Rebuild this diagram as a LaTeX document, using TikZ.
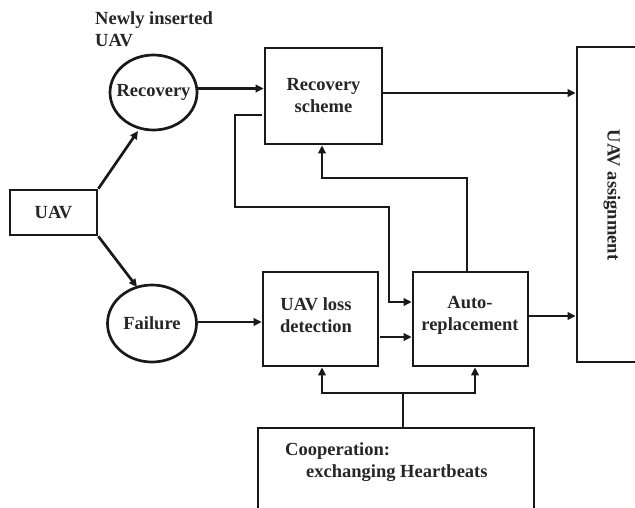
\documentclass[tikz,border=0pt]{standalone}
\usepackage{fontspec}
\setmainfont{Liberation Serif}
\usetikzlibrary{arrows.meta,shapes.geometric}
\begin{document}
\begin{tikzpicture}[x=1pt,y=-1pt,
  every node/.style={font=\fontsize{18.5}{22}\selectfont\bfseries, text=black!85},
  blk/.style={draw=black!90, line width=2.7pt, inner sep=0pt, align=center},
  oval/.style={draw=black!90, line width=2.7pt, ellipse, inner sep=0pt},
  conn/.style={draw=black!90, line width=2.7pt},
  arr/.style={conn, -{Triangle[length=8pt,width=7.5pt]}}]
\useasboundingbox (0,0) rectangle (635,507);
\clip (0,0) rectangle (635,507);
\fill[white] (0,0) rectangle (635,507);

% nodes
\node[blk, minimum width=87pt, minimum height=45pt] (uav) at (53.5,212.5) {UAV};
\node[oval, minimum width=87pt, minimum height=75pt, label={center:Recovery}] (rec) at (153.5,92.5) {};
\node[oval, minimum width=89pt, minimum height=77pt, label={center:Failure}] (fail) at (152,323.5) {};
\node[anchor=north west, align=left, inner sep=0pt] (newly) at (95,11) {Newly inserted\\UAV};

\node[blk, minimum width=117pt, minimum height=96pt] (scheme) at (323.5,96) {Recovery\\scheme};
\node[blk, minimum width=115pt, minimum height=94pt] (loss) at (320.5,319) {};
\node (losstxt) at (316,315) [align=center] {UAV loss\\detection};
\node[blk, minimum width=115pt, minimum height=94pt] (auto) at (470.5,319) {};
\node (autotxt) at (470,315) [align=center] {Auto-\\replacement};
\node[blk, minimum width=90pt, minimum height=315pt] (assign) at (622,204.5) {};
\node[rotate=-90] (assigntxt) at (612,195) {UAV assignment};
\node[blk, minimum width=276pt, minimum height=100pt] (coop) at (396,478) {};
\node[anchor=north west, align=left, inner sep=0pt] (cooptxt) at (285,442) {Cooperation:\\\hspace{21pt}exchanging Heartbeats};

% connectors
\draw[arr] (uav.north east) -- (138,131);
\draw[arr] (uav.south east) -- (137,287);
\draw[arr] (rec.east) ++(0,-4) coordinate (r1) -- (r1 -| scheme.west);
\draw[arr] (fail.east) ++(0,-1.5) coordinate (f1) -- (f1 -| loss.west);
\coordinate (s1) at (scheme.north east |- 0,93);
\draw[arr] (s1) -- (s1 -| assign.west);
\coordinate (a1) at (auto.east |- 0,316);
\draw[arr] (a1) -- (a1 -| assign.west);
\coordinate (l1) at (380,337);
\draw[arr] (l1) -- (l1 -| auto.west);

% feedback loops
\coordinate (fb0) at (262,115);
\draw[arr] (fb0) -- (235,115) -- (235,207) -- (389,207) -- (389,302) -- (auto.west |- 0,302);
\draw[arr] (auto.north -| 467,0) -- (467,178) -- (322,178) -- (scheme.south -| 322,0);

% heartbeat distribution
\draw[conn] (coop.north -| 403,0) -- (403,393);
\draw[arr] (322,393) -- (loss.south -| 322,0);
\draw[arr] (320.7,393) -- (475,393) -- (auto.south -| 475,0);
\end{tikzpicture}
\end{document}
